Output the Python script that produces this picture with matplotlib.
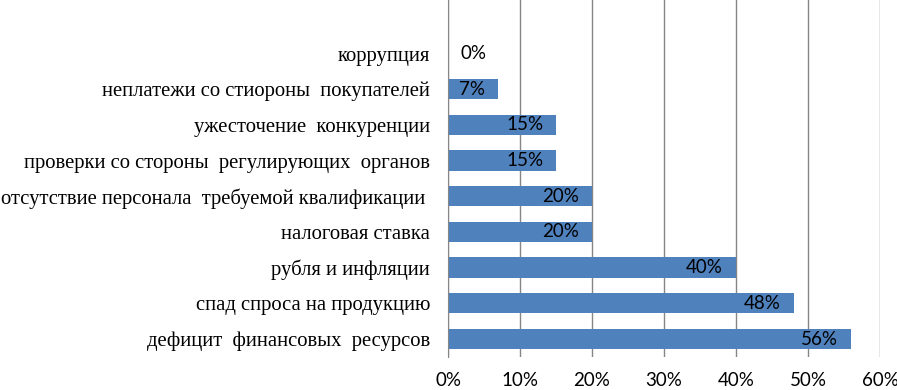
import numpy as np
import matplotlib
matplotlib.use("Agg")
import matplotlib.pyplot as plt
from matplotlib.ticker import PercentFormatter

# data, listed bottom to top as drawn
categories = [
    "дефицит  финансовых  ресурсов",
    "спад спроса на продукцию",
    "рубля и инфляции",
    "налоговая ставка",
    "отсутствие персонала  требуемой квалификации ",
    "проверки со стороны  регулирующих  органов",
    "ужесточение  конкуренции",
    "неплатежи со стиороны  покупателей",
    "коррупция",
]
values = [0.56, 0.48, 0.40, 0.20, 0.20, 0.15, 0.15, 0.07, 0.0]
x_ticks = [0, 0.1, 0.2, 0.3, 0.4, 0.5, 0.6]

bar_color = "#4F81BD"
grid_color = "#868686"

fig = plt.figure(figsize=(8.97, 3.9), dpi=100)
ax = fig.add_axes([0.4995, 0.085, 0.4815, 0.915])

y = np.arange(len(categories))
ax.barh(y, values, height=0.57, color=bar_color, zorder=3)

# empty slot on top, like the original
ax.set_ylim(-0.5, len(categories) + 0.5)
ax.set_xlim(0, 0.6)
ax.set_xticks(x_ticks)
ax.xaxis.set_major_formatter(PercentFormatter(1.0, decimals=0))
ax.set_yticks(y)
ax.set_yticklabels(categories, family="Liberation Serif", fontsize=14.9)

for lbl in ax.get_xticklabels():
    lbl.set_family("Lato")
    lbl.set_fontsize(13.5)

ax.tick_params(axis="x", length=0, pad=11)
ax.tick_params(axis="y", length=0, pad=13)
ax.grid(axis="x", color=grid_color, linewidth=1.0, zorder=0)

for s in ["top", "right", "bottom"]:
    ax.spines[s].set_visible(False)
ax.spines["left"].set_color(grid_color)
ax.spines["left"].set_zorder(4)

for yi, v in zip(y, values):
    txt = f"{int(round(v * 100))}%"
    if v > 0:
        ax.text(v - 0.018, yi, txt, ha="right", va="center",
                family="Lato", fontsize=13.5, color="black", zorder=5)
    else:
        ax.text(0.017, yi, txt, ha="left", va="center",
                family="Lato", fontsize=13.5, color="black", zorder=5)

fig.savefig("out.png", dpi=100)
